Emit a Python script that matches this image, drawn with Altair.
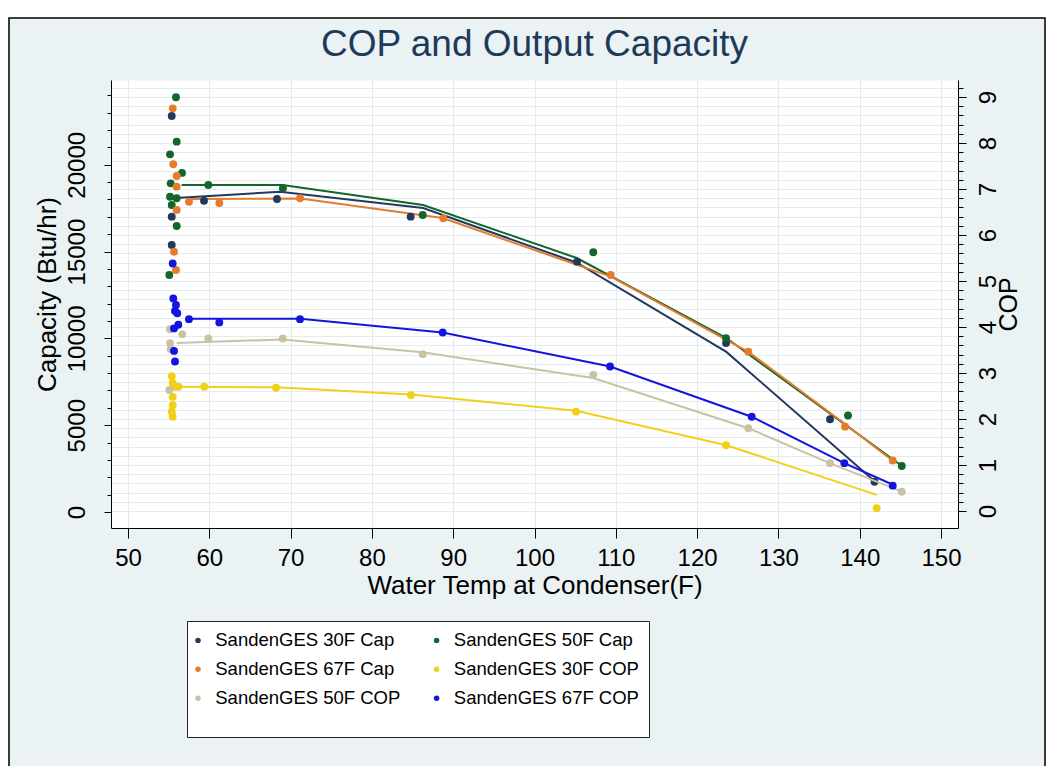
import altair as alt
import pandas as pd

SERIES = ["SandenGES 30F Cap", "SandenGES 50F Cap", "SandenGES 67F Cap",
          "SandenGES 30F COP", "SandenGES 50F COP", "SandenGES 67F COP"]
COLORS = ["#22395e", "#13662a", "#e57b2c", "#f2d01a", "#c9c3a4", "#1414e0"]

# ---- measured points (x = water temp F) ----
cap30_x = [55.38, 55.38, 55.38, 59.35, 68.33, 84.77, 105.23, 123.56, 136.35, 141.82]
cap30_y = [22810, 17010, 15380, 17930, 18030, 17010, 14420, 9730, 5340, 1745]

cap50_x = [55.90, 55.99, 55.17, 56.64, 55.25, 55.17, 55.99, 55.38, 55.99, 55.08,
           59.88, 69.06, 86.25, 107.23, 123.56, 138.56, 145.17]
cap50_y = [23890, 21330, 20600, 19530, 18930, 18160, 18070, 17680, 16470, 13650,
           18835, 18645, 17110, 14960, 10005, 5560, 2650]

cap67_x = [55.50, 55.57, 55.99, 55.99, 55.99, 55.66, 55.90, 57.50, 61.23, 71.16,
           88.78, 109.37, 126.30, 138.20, 144.06]
cap67_y = [23250, 20030, 19350, 18740, 17400, 14990, 13940, 17870, 17800, 18070,
           16920, 13650, 9235, 4915, 2965]

cop30_x = [55.38, 55.50, 55.78, 56.19, 55.50, 55.50, 55.38, 55.50, 59.38, 68.20,
           84.81, 105.10, 123.56, 142.09]
cop30_y = [2.93, 2.78, 2.70, 2.70, 2.48, 2.30, 2.16, 2.05, 2.70, 2.68,
           2.52, 2.16, 1.43, 0.06]

cop50_x = [56.68, 55.17, 55.17, 55.25, 55.08, 59.88, 69.03, 86.25, 107.23, 126.30,
           136.35, 145.17]
cop50_y = [3.84, 3.95, 3.65, 3.52, 2.63, 3.75, 3.75, 3.41, 2.96, 1.80, 1.04, 0.42]

cop67_x = [55.50, 55.57, 55.90, 55.78, 56.06, 56.19, 55.66, 55.66, 55.78, 57.50,
           61.23, 71.16, 88.71, 109.29, 126.72, 138.11, 144.06]
cop67_y = [5.38, 4.62, 4.48, 4.35, 4.30, 4.05, 3.97, 3.48, 3.25, 4.17,
           4.10, 4.17, 3.88, 3.14, 2.05, 1.04, 0.55]

# ---- fitted curves ----
fit_cap30_x = [56.4, 68.7, 86.3, 105.2, 123.6, 141.8]
fit_cap30_y = [18100, 18450, 17510, 14360, 9220, 1790]
fit_cap50_x = [56.6, 69.0, 86.3, 105.2, 123.6, 145.2]
fit_cap50_y = [18835, 18835, 17680, 14630, 10020, 2650]
fit_cap67_x = [57.5, 71.2, 88.7, 109.4, 126.3, 138.2, 144.1]
fit_cap67_y = [18030, 18060, 16930, 13560, 9220, 5070, 2940]
fit_cop30_x = [55.8, 68.2, 84.8, 105.1, 123.6, 142.1]
fit_cop30_y = [2.70, 2.69, 2.53, 2.18, 1.43, 0.35]
fit_cop50_x = [56.0, 69.0, 86.2, 107.2, 126.3, 136.3, 145.2]
fit_cop50_y = [3.65, 3.73, 3.45, 2.89, 1.80, 1.04, 0.42]
fit_cop67_x = [57.5, 71.2, 88.7, 109.3, 126.7, 138.1, 144.1]
fit_cop67_y = [4.18, 4.18, 3.88, 3.14, 2.05, 1.04, 0.57]

X_TICKS = list(range(50, 151, 10))
CAP_TICKS = list(range(0, 25000, 1000))
COP_TICKS = [round(i * 0.2, 1) for i in range(0, 47)]


def frame(pairs):
    rows = []
    for name, xs, ys in pairs:
        for i, (a, b) in enumerate(zip(xs, ys)):
            rows.append({"temp": a, "value": b, "series": name, "order": i})
    return pd.DataFrame(rows)


cap_pts = frame([(SERIES[0], cap30_x, cap30_y), (SERIES[1], cap50_x, cap50_y),
                 (SERIES[2], cap67_x, cap67_y)])
cop_pts = frame([(SERIES[3], cop30_x, cop30_y), (SERIES[4], cop50_x, cop50_y),
                 (SERIES[5], cop67_x, cop67_y)])
cap_fit = frame([(SERIES[0], fit_cap30_x, fit_cap30_y), (SERIES[1], fit_cap50_x, fit_cap50_y),
                 (SERIES[2], fit_cap67_x, fit_cap67_y)])
cop_fit = frame([(SERIES[3], fit_cop30_x, fit_cop30_y), (SERIES[4], fit_cop50_x, fit_cop50_y),
                 (SERIES[5], fit_cop67_x, fit_cop67_y)])

FONT = "Liberation Sans"
W, H = 847, 448

xscale = alt.Scale(domain=[47.91, 152.09], nice=False, zero=False)
capscale = alt.Scale(domain=[-922, 24883], nice=False, zero=False)
copscale = alt.Scale(domain=[-0.37, 9.37], nice=False, zero=False)
cscale = alt.Scale(domain=SERIES, range=COLORS)
# same mapping for the fitted lines (listed in reverse so it is kept as its own scale)
sscale = alt.Scale(domain=SERIES[::-1], range=COLORS[::-1])

xaxis = alt.Axis(values=X_TICKS, format="d", title="Water Temp at Condenser(F)",
                 titleFont=FONT, titleFontSize=26, titleFontWeight="normal",
                 titleColor="black", titlePadding=2,
                 labelFont=FONT, labelFontSize=24, labelColor="black", labelPadding=8,
                 labelFlush=False, labelOverlap=False,
                 tickSize=10, tickColor="black", domainColor="black",
                 grid=True, gridColor="#E2EAEC")

capaxis = alt.Axis(orient="left", values=CAP_TICKS, format="d",
                   labelExpr="datum.value % 5000 === 0 ? datum.label : ''",
                   labelAngle=270, labelAlign="center", labelBaseline="bottom",
                   labelFont=FONT, labelFontSize=24, labelColor="black",
                   labelPadding=15, labelOverlap=False, labelFlush=False,
                   tickSize={"condition": {"test": "datum.value % 5000 === 0", "value": 7}, "value": 4},
                   tickColor="black", domainColor="black", grid=False,
                   title="Capacity (Btu/hr)", titleFont=FONT, titleFontSize=26,
                   titleFontWeight="normal", titleColor="black",
                   titleAngle=270, titleAlign="center", titleBaseline="middle",
                   titleX=-64, titleY=214)

copaxis = alt.Axis(orient="right", values=COP_TICKS,
                   labelExpr="datum.value % 1 === 0 ? format(datum.value, 'd') : ''",
                   labelAngle=270, labelAlign="center", labelBaseline="top",
                   labelFont=FONT, labelFontSize=24, labelColor="black",
                   labelPadding=10, labelOverlap=False, labelFlush=False,
                   tickSize={"condition": {"test": "datum.value % 1 === 0", "value": 8}, "value": 5},
                   tickColor="black", domainColor="black",
                   grid=True, gridColor="#E4ECEE",
                   title="COP", titleFont=FONT, titleFontSize=25,
                   titleFontWeight="normal", titleColor="black",
                   titleAngle=270, titleAlign="center", titleBaseline="middle",
                   titleX=50, titleY=224)

legend = alt.Legend(orient="none", legendX=76, legendY=541, columns=2,
                    direction="horizontal", title=" ", values=SERIES,
                    titleOrient="bottom", titleFontSize=14, titlePadding=4.75,
                    fillColor="white", strokeColor="#222", padding=10,
                    labelFont=FONT, labelFontSize=18.5, labelColor="black",
                    labelOffset=8, symbolOffset={"expr": "-8.25"},
                    symbolType="circle", symbolSize=30,
                    symbolStrokeWidth=0, columnPadding=32.6, rowPadding=10,
                    labelLimit=400)

X = alt.X("temp:Q", scale=xscale, axis=xaxis)

cap_lines = alt.Chart(cap_fit).mark_line(strokeWidth=2).encode(
    x=X, y=alt.Y("value:Q", scale=capscale, axis=capaxis),
    stroke=alt.Stroke("series:N", scale=sscale, legend=None), order="order:Q")
cap_points = alt.Chart(cap_pts).mark_circle(size=62, opacity=1).encode(
    x=X, y=alt.Y("value:Q", scale=capscale, axis=capaxis),
    color=alt.Color("series:N", scale=cscale, legend=legend))
cop_lines = alt.Chart(cop_fit).mark_line(strokeWidth=2).encode(
    x=X, y=alt.Y("value:Q", scale=copscale, axis=copaxis),
    stroke=alt.Stroke("series:N", scale=sscale, legend=None), order="order:Q")
cop_points = alt.Chart(cop_pts).mark_circle(size=62, opacity=1).encode(
    x=X, y=alt.Y("value:Q", scale=copscale, axis=copaxis),
    color=alt.Color("series:N", scale=cscale, legend=legend))

deco = alt.Data(values=[{}])
strip = alt.Chart(deco).mark_rect(color="white").encode(
    x=alt.value(-110), x2=alt.value(950), y=alt.value(-80), y2=alt.value(-62))
border = alt.Chart(deco).mark_rect(fillOpacity=0, stroke="black", strokeWidth=1.5).encode(
    x=alt.value(-102), x2=alt.value(934), y=alt.value(-62), y2=alt.value(720))

chart = alt.layer(
    strip, border,
    alt.layer(cap_lines, cap_points),
    alt.layer(cop_lines, cop_points),
).resolve_scale(y="independent").properties(
    width=W, height=H,
    title=alt.TitleParams("COP and Output Capacity", font=FONT, fontSize=37,
                          fontWeight="normal", color="#1e3a5a", anchor="middle",
                          frame="group", offset=0, baseline="alphabetic", dy=93),
    autosize=alt.AutoSizeParams(type="none"),
    padding={"left": 103, "top": 72, "right": 88, "bottom": 238},
    background="#EAF2F3",
).configure_view(strokeOpacity=0, fill="white")

chart.save("out.html", embed_options={"renderer": "svg", "actions": False})
